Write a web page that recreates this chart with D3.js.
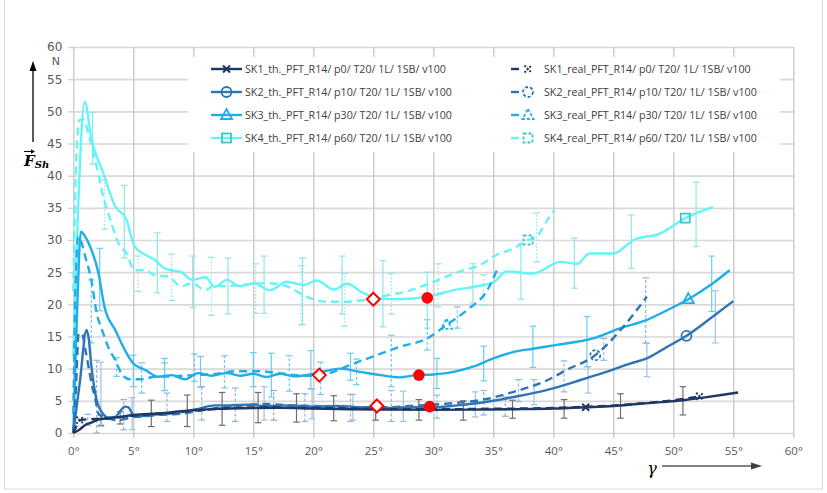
<!DOCTYPE html>
<html>
<head>
<meta charset="utf-8">
<script src="https://cdn.jsdelivr.net/npm/d3@7"></script>
<style>
  html, body { margin: 0; padding: 0; background: #ffffff; }
  svg { display: block; }
</style>
</head>
<body>
<svg id="chart" width="827" height="493"></svg>
<script>
// ---- axis ticks ----
const gammaTicks = [0, 5, 10, 15, 20, 25, 30, 35, 40, 45, 50, 55, 60];
const forceTicks = [0, 5, 10, 15, 20, 25, 30, 35, 40, 45, 50, 55, 60];

// ---- series names ----
const seriesNames = [
  "SK1_th._PFT_R14/ p0/ T20/ 1L/ 1SB/ v100",
  "SK2_th._PFT_R14/ p10/ T20/ 1L/ 1SB/ v100",
  "SK3_th._PFT_R14/ p30/ T20/ 1L/ 1SB/ v100",
  "SK4_th._PFT_R14/ p60/ T20/ 1L/ 1SB/ v100",
  "SK1_real_PFT_R14/ p0/ T20/ 1L/ 1SB/ v100",
  "SK2_real_PFT_R14/ p10/ T20/ 1L/ 1SB/ v100",
  "SK3_real_PFT_R14/ p30/ T20/ 1L/ 1SB/ v100",
  "SK4_real_PFT_R14/ p60/ T20/ 1L/ 1SB/ v100"
];

// ---- curves: [gamma in deg, force in N] ----
const sk1Th = [[0,0],[0.5,0.5],[1,1.25],[1.5,1.6],[2.1,2.1],[3,2.3],[3.5,2.4],[5,2.8],[6.5,3.0],[7.6,3.1],[9,3.4],[10.4,3.6],[11.8,3.75],[14,3.85],[17,3.9],[20,3.8],[23,3.7],[26,3.65],[30,3.6],[34,3.65],[37,3.7],[40,3.8],[42.7,4.0],[45,4.2],[47,4.5],[49,4.8],[50.8,5.1],[52.5,5.5],[54,5.9],[55.4,6.3]];
const sk1Real = [[0,0],[0.25,1.0],[0.55,2.0],[1,2.1],[2,2.2],[3,2.3],[4,2.5],[5,2.7],[7,3.0],[9,3.3],[11,3.6],[13,3.85],[16,4.0],[19,3.9],[22,3.85],[25,3.75],[28,3.7],[31,3.7],[34,3.75],[37,3.8],[40,3.9],[43,4.1],[46,4.4],[48.5,4.8],[50.5,5.2],[52.2,5.7]];
const sk2Th = [[0,0],[0.55,8],[1.1,16],[1.3,14.5],[1.5,10.5],[1.75,7],[1.95,5.1],[2.2,3.8],[2.5,2.9],[2.9,2.4],[3.5,2.5],[3.9,3.4],[4.3,4.1],[4.6,4.0],[4.85,3.2],[5.1,2.5],[5.6,2.6],[6.5,2.8],[8,3.0],[9.5,3.4],[10.5,3.8],[11.8,4.3],[13,4.3],[14.5,4.4],[16,4.2],[18,4.3],[20,4.1],[22,4.2],[24,4.0],[26,3.9],[28,4.0],[30,4.0],[32,4.3],[33.9,4.7],[36.7,5.6],[39.5,6.7],[42.2,8.2],[44.4,9.5],[46.4,10.8],[47.8,11.6],[49.5,13.4],[51.1,15.1],[53.3,18.1],[55,20.5]];
const sk2Real = [[0,0],[0.2,6],[0.45,15.5],[0.75,15.3],[1.0,13],[1.3,10],[1.6,7],[1.8,5.6],[2.1,3.0],[2.5,2.5],[2.9,2.3],[3.5,2.0],[4.1,2.1],[5,2.5],[6,2.6],[7,2.8],[8,2.9],[9,3.0],[10,3.3],[11,3.6],[12,3.9],[14,4.3],[16,4.5],[18,4.3],[20,4.2],[22,4.1],[24,4.0],[26,4.0],[28,4.2],[30,4.4],[32,4.7],[33.9,5.1],[36.7,6.4],[39.5,8.2],[41.1,9.8],[43.5,12.1],[45.6,16],[47.8,21.2]];
const sk3Th = [[0,0],[0.3,18],[0.64,31.3],[1.0,30.5],[1.4,29],[2.1,24.8],[2.6,19.6],[3.5,16],[4.3,12.9],[5,10.8],[6,9.8],[7.1,8.75],[8.2,9.0],[9.3,8.35],[10.4,9.3],[11.5,8.9],[12.8,9.3],[13.9,8.9],[15,9.2],[16.1,8.7],[17.2,9.2],[18.5,8.8],[20.3,9.3],[22.2,10.0],[23.9,9.5],[25.6,9.0],[27.2,8.65],[28.6,9.0],[30,9.1],[31.7,9.5],[33.3,10.3],[35,11.6],[36.7,12.6],[38.3,13.1],[40.3,13.7],[43.3,14.7],[45.6,16.3],[47.8,17.6],[49.5,19.1],[51.25,20.8],[53.1,23],[54.7,25.3]];
const sk3Real = [[0,3],[0.15,20],[0.4,30.5],[0.7,29.5],[1.0,27.4],[1.5,23.8],[1.95,18.6],[2.4,16],[2.9,13.4],[3.5,11.3],[4,9.3],[4.7,8.35],[5.7,8.35],[6.8,8.75],[8.2,8.8],[10,9.0],[12,9.2],[13.5,9.6],[15.5,9.6],[17.5,9.2],[19.6,8.9],[20.5,9.0],[21.8,9.6],[23.1,10.6],[25,11.9],[27.2,13.4],[29.5,14.7],[31.1,16.8],[32.8,19.1],[34.5,22.2],[35.3,25.3]];
const sk4Th = [[0,12],[0.4,35],[0.95,51.5],[1.5,45.8],[2.5,40.4],[3.5,35.2],[4.4,33.3],[5.1,29],[6,27.7],[6.8,26.9],[7.6,25.6],[8.2,25.3],[9,25.0],[9.9,23.8],[11,24.2],[11.8,22.7],[12.8,23.8],[13.9,22.8],[15,23.3],[16.4,22.2],[17.8,23.5],[19.2,23.0],[20.3,23.7],[21.7,22.3],[22.8,23.2],[24.2,21.7],[25.6,20.9],[26.9,20.8],[28.3,20.9],[30,21.4],[31.7,22.2],[33.3,22.7],[35,23.4],[36.1,25.1],[38.3,24.8],[40.6,26.6],[42,26.3],[43,27.9],[45,27.9],[46.7,30],[48.9,31],[51,33.4],[53.3,35.1]];
const sk4Real = [[0,22],[0.2,40],[0.5,48.6],[0.8,48.8],[1.4,45.5],[1.95,41.4],[2.5,36.7],[3.1,33.1],[3.75,29.5],[4.45,27.9],[5.1,25.3],[6.0,25.3],[6.8,24.5],[7.9,24.3],[9,22.8],[9.9,23.3],[11,22.2],[11.8,23],[12.3,22.8],[13.9,23],[16.1,23.3],[17.8,22.8],[19.4,21.2],[21.1,20.4],[22.5,20.4],[24.4,20.7],[26.1,21.4],[27.8,22.0],[30,23.5],[32.2,25.1],[33.9,26.1],[35.3,27.7],[36.7,28.7],[37.9,30],[38.6,30.5],[39.5,33.1],[40.1,34.7]];

// ---- series markers: [gamma, force] ----
const sk1ThMarks = [[42.7, 4.0]];
const sk1RealMarks = [[0.55, 2.0], [52.2, 5.7]];
const sk2ThMarks = [[51.1, 15.1]];
const sk2RealMarks = [[43.5, 12.1]];
const sk3ThMarks = [[51.25, 20.8]];
const sk3RealMarks = [[31.1, 16.8]];
const sk4ThMarks = [[51.0, 33.4]];
const sk4RealMarks = [[37.9, 30.0]];

// ---- error bars: [gamma, low, high] ----
const sk1ThErr = [[2.3,1.2,2.8],[3.9,1.4,3.3],[6.5,1.0,5.1],[9.5,1.0,5.9],[12.4,1.2,6.3],[15.4,1.6,6.3],[18.6,1.7,6.1],[21.7,1.9,5.8],[25.2,2.0,4.7],[28.8,2.0,5.2],[32.5,2.0,5.0],[36.6,2.3,5.1],[40.9,2.3,5.2],[45.6,2.3,6.1],[50.8,2.8,7.2]];
const sk1RealErr = [[1.2,1.2,2.9],[16.7,2.0,6.6],[36.0,2.6,5.6]];
const sk2ThErr = [[2.3,1.0,11.0],[4.9,0.5,5.5],[15.9,2.0,7.2],[19.9,2.2,6.8],[23.3,2.0,6.0],[27.5,1.8,6.5],[33.5,2.5,6.4],[38.4,4.4,8.3],[42.9,6.2,10.3],[47.8,8.75,13.9],[53.5,14.0,22.1]];
const sk2RealErr = [[1.95,0,11.3],[4.2,0.5,5.2],[7.8,1.8,6.2],[10.7,2.0,7.2],[13.5,1.8,7.0],[19.3,1.8,6.1],[23.1,1.8,6.0],[26.5,1.8,6.6],[30.3,2.3,5.9],[34.2,2.8,6.6],[37.1,4.9,8.3],[40.9,6.4,11.2],[44.2,11.3,14.7],[47.7,14.0,24.1]];
const sk3ThErr = [[2.2,19.0,28.7],[5.0,7.2,12.1],[7.6,6.6,11.6],[10.6,7.1,11.9],[15.0,7.2,12.5],[16.5,5.6,12.4],[19.8,6.9,12.8],[23.1,8.2,12.4],[30.3,6.9,11.6],[34.2,8.1,13.5],[38.3,10.2,16.6],[42.8,10.3,18.1],[53.2,18.9,27.5]];
const sk3RealErr = [[1.5,14.0,23.8],[3.6,8.8,11.7],[5.7,6.2,10.9],[7.6,6.6,10.9],[10.1,8.0,12.3],[12.6,7.0,12.0],[18.0,6.5,12.0],[20.6,6.0,11.0],[23.6,7.5,11.5],[26.5,7.2,15.2],[29.5,12.9,17.6],[32.0,16.3,19.6]];
const sk4ThErr = [[1.6,41.8,49.8],[4.25,27.2,38.5],[7.0,21.8,31.1],[9.95,19.5,27.5],[12.9,18.5,27.2],[15.9,18.6,27.5],[19.1,16.9,27.2],[22.4,18.5,27.5],[25.8,16.5,26.8],[29.5,16.3,25.0],[33.3,20.2,26.3],[37.3,20.8,29.4],[41.75,22.5,30.3],[46.5,25.6,33.9],[51.9,29.0,39.0]];
const sk4RealErr = [[2.6,31.7,39.3],[5.4,22.0,27.5],[8.2,20.6,27.8],[11.5,18.3,27.3],[15.2,18.6,26.3],[19.0,16.8,26.0],[22.6,16.6,24.8],[26.5,18.5,24.8],[30.4,19.6,26.3],[34.2,19.9,24.6],[38.6,26.6,34.2]];

// ---- highlighted points ----
const openDiamonds = [[20.5, 9.0], [25.0, 20.8], [25.3, 4.2]];
const filledDots = [[28.8, 9.0], [29.5, 21.0], [29.7, 4.1]];

// ---- series table ----
const series = [
  { name: seriesNames[0], data: sk1Th,   marks: sk1ThMarks,   err: sk1ThErr,   color: "#1F3864", mark: "x",        dashed: false, errColor: "#6F6F6F", errDash: null },
  { name: seriesNames[1], data: sk2Th,   marks: sk2ThMarks,   err: sk2ThErr,   color: "#2E75B6", mark: "circle",   dashed: false, errColor: "#9DC3E6", errDash: null },
  { name: seriesNames[2], data: sk3Th,   marks: sk3ThMarks,   err: sk3ThErr,   color: "#1FAEE8", mark: "triangle", dashed: false, errColor: "#6ACDF2", errDash: null },
  { name: seriesNames[3], data: sk4Th,   marks: sk4ThMarks,   err: sk4ThErr,   color: "#66F4F7", mark: "square",   dashed: false, errColor: "#8EE6EA", errDash: null, markColor: "#3CC6CA" },
  { name: seriesNames[4], data: sk1Real, marks: sk1RealMarks, err: sk1RealErr, color: "#1F3864", mark: "x",        dashed: true,  errColor: "#8FAADC", errDash: "3,2" },
  { name: seriesNames[5], data: sk2Real, marks: sk2RealMarks, err: sk2RealErr, color: "#2E75B6", mark: "circle",   dashed: true,  errColor: "#8DB8E2", errDash: "3,2" },
  { name: seriesNames[6], data: sk3Real, marks: sk3RealMarks, err: sk3RealErr, color: "#1FAEE8", mark: "triangle", dashed: true,  errColor: "#6ACDF2", errDash: "3,2" },
  { name: seriesNames[7], data: sk4Real, marks: sk4RealMarks, err: sk4RealErr, color: "#66F4F7", mark: "square",   dashed: true,  errColor: "#8EE6EA", errDash: "1.5,2", markColor: "#3CC6CA" }
];

// ---- layout ----
const svg = d3.select("#chart");
const plotLeft = 73.3, plotRight = 793.3, plotTop = 47, plotBottom = 433;
const x = d3.scaleLinear().domain([0, 60]).range([plotLeft, plotRight]);
const y = d3.scaleLinear().domain([0, 60]).range([plotBottom, plotTop]);

// outer frame
svg.append("rect")
  .attr("x", 4.5).attr("y", -2).attr("width", 818).attr("height", 491)
  .attr("fill", "#ffffff").attr("stroke", "#D9D9D9").attr("stroke-width", 1);

// horizontal grid
svg.append("g")
  .attr("transform", `translate(${plotLeft},0)`)
  .call(d3.axisRight(y).tickValues(forceTicks).tickSize(plotRight - plotLeft).tickFormat(""))
  .call(g => g.select(".domain").remove())
  .call(g => g.selectAll("line").attr("stroke", "#D9D9D9").attr("stroke-width", 1.6));

// vertical grid
svg.append("g")
  .attr("transform", `translate(0,${plotBottom})`)
  .call(d3.axisTop(x).tickValues(gammaTicks).tickSize(plotBottom - plotTop).tickFormat(""))
  .call(g => g.select(".domain").remove())
  .call(g => g.selectAll("line").attr("stroke", "#C4C4C4").attr("stroke-width", 1.2));

// y axis ticks and labels
svg.append("g")
  .attr("transform", `translate(${plotLeft},0)`)
  .call(d3.axisLeft(y).tickValues(forceTicks).tickSize(5).tickPadding(6).tickFormat(d => d))
  .call(g => g.select(".domain").remove())
  .call(g => g.selectAll("line").attr("stroke", "#D0D0D0").attr("stroke-width", 1.4))
  .call(g => g.selectAll("text").attr("fill", "#595959")
      .style("font-family", "'DejaVu Sans', sans-serif").style("font-size", "12px"));

// x axis ticks and labels
svg.append("g")
  .attr("transform", `translate(0,${plotBottom})`)
  .call(d3.axisBottom(x).tickValues(gammaTicks).tickSize(5).tickPadding(9).tickFormat(d => d + "°"))
  .call(g => g.select(".domain").remove())
  .call(g => g.selectAll("line").attr("stroke", "#C4C4C4").attr("stroke-width", 1.2))
  .call(g => g.selectAll("text").attr("fill", "#595959")
      .style("font-family", "'Open Sans', sans-serif").style("font-size", "11.5px"));

// unit under the top label
svg.append("text").attr("x", 60).attr("y", 65).attr("text-anchor", "end")
  .attr("fill", "#595959").style("font-family", "'DejaVu Sans', sans-serif").style("font-size", "11px")
  .text("N");

// ---- error bars ----
const errLayer = svg.append("g");
series.forEach(s => {
  const g = errLayer.append("g")
    .attr("stroke", s.errColor).attr("stroke-width", 1.2).attr("fill", "none");
  s.err.forEach(([gm, lo, hi]) => {
    const cx = x(gm);
    g.append("line").attr("x1", cx).attr("x2", cx).attr("y1", y(lo)).attr("y2", y(hi))
      .attr("stroke-dasharray", s.errDash);
    g.append("line").attr("x1", cx - 3.3).attr("x2", cx + 3.3).attr("y1", y(lo)).attr("y2", y(lo));
    g.append("line").attr("x1", cx - 3.3).attr("x2", cx + 3.3).attr("y1", y(hi)).attr("y2", y(hi));
  });
});

// ---- curves ----
const line = d3.line().x(d => x(d[0])).y(d => y(d[1])).curve(d3.curveMonotoneX);
const drawOrder = [3, 7, 2, 6, 1, 5, 0, 4];
drawOrder.forEach(i => {
  const s = series[i];
  svg.append("path")
    .datum(s.data)
    .attr("d", line)
    .attr("fill", "none")
    .attr("stroke", s.color)
    .attr("stroke-width", 2.4)
    .attr("stroke-linejoin", "round")
    .attr("stroke-dasharray", s.dashed ? "8,5" : null);
});

// ---- marker symbols ----
function drawMarker(g, type, cx, cy, color, dashed) {
  const m = g.append("g").attr("fill", "none").attr("stroke", color).attr("stroke-width", 1.8)
    .attr("stroke-dasharray", dashed ? "3,2" : null);
  if (type === "x") {
    m.append("path").attr("d", `M${cx-3.5},${cy-3.5}L${cx+3.5},${cy+3.5}M${cx-3.5},${cy+3.5}L${cx+3.5},${cy-3.5}`)
      .attr("stroke-width", 2).attr("stroke-dasharray", dashed ? "2,1.5" : null);
  } else if (type === "circle") {
    m.append("circle").attr("cx", cx).attr("cy", cy).attr("r", 5);
  } else if (type === "triangle") {
    m.append("path").attr("d", `M${cx},${cy-6}L${cx+5.5},${cy+4}L${cx-5.5},${cy+4}Z`);
  } else if (type === "square") {
    m.append("rect").attr("x", cx - 4.5).attr("y", cy - 4.5).attr("width", 9).attr("height", 9);
  }
}

series.forEach(s => {
  s.marks.forEach(([gm, f]) => drawMarker(svg, s.mark, x(gm), y(f), s.markColor || s.color, s.dashed));
});

// ---- highlighted points ----
svg.append("g").selectAll("path").data(openDiamonds).join("path")
  .attr("d", d => `M${x(d[0])},${y(d[1]) - 6.5}L${x(d[0]) + 6.5},${y(d[1])}L${x(d[0])},${y(d[1]) + 6.5}L${x(d[0]) - 6.5},${y(d[1])}Z`)
  .attr("fill", "#ffffff").attr("stroke", "#FF0000").attr("stroke-width", 2);
svg.append("g").selectAll("circle").data(filledDots).join("circle")
  .attr("cx", d => x(d[0])).attr("cy", d => y(d[1])).attr("r", 5.8)
  .attr("fill", "#FF0000");

// ---- legend ----
const legend = svg.append("g");
legend.append("rect").attr("x", 188).attr("y", 57).attr("width", 592).attr("height", 95).attr("fill", "#ffffff");
const rowY = [69, 92, 115, 138];
series.forEach((s, i) => {
  const col = i < 4 ? 0 : 1;
  const ry = rowY[i % 4];
  const g = legend.append("g");
  if (col === 0) {
    g.append("line").attr("x1", 211).attr("x2", 242).attr("y1", ry).attr("y2", ry)
      .attr("stroke", s.color).attr("stroke-width", 2.4);
    drawMarker(g, s.mark, 226.5, ry, s.markColor || s.color, false);
    g.append("text").attr("x", 245).attr("y", ry + 4).text(s.name);
  } else {
    g.append("line").attr("x1", 511).attr("x2", 519).attr("y1", ry).attr("y2", ry)
      .attr("stroke", s.color).attr("stroke-width", 2.4);
    drawMarker(g, s.mark, 528, ry, s.markColor || s.color, true);
    g.append("text").attr("x", 544).attr("y", ry + 4).text(s.name);
  }
});
legend.selectAll("text").attr("fill", "#404040")
  .style("font-family", "'Open Sans', sans-serif").style("font-size", "10.7px");

// ---- axis titles with arrows ----
const arrowColor = "#000000";
svg.append("line").attr("x1", 33).attr("x2", 33).attr("y1", 142).attr("y2", 69)
  .attr("stroke", arrowColor).attr("stroke-width", 1.3);
svg.append("path").attr("d", "M33,61L29.5,71L36.5,71Z").attr("fill", arrowColor);

const fLabel = svg.append("text").attr("x", 24).attr("y", 166)
  .style("font-family", "'DejaVu Serif', 'Liberation Serif', serif").style("font-weight", "bold")
  .style("font-style", "italic").attr("fill", "#000");
fLabel.append("tspan").style("font-size", "15px").text("F");
fLabel.append("tspan").style("font-size", "10px").attr("dy", 2).text("Sh");
// vector arrow over F
svg.append("line").attr("x1", 24).attr("x2", 33).attr("y1", 151.5).attr("y2", 151.5)
  .attr("stroke", "#000").attr("stroke-width", 1);
svg.append("path").attr("d", "M35,151.5L31,149.3L31,153.7Z").attr("fill", "#000");

svg.append("text").attr("x", 652).attr("y", 474).attr("text-anchor", "middle")
  .style("font-family", "'DejaVu Serif', 'Liberation Serif', serif").style("font-style", "italic")
  .style("font-size", "16px").attr("fill", "#000").text("γ");
svg.append("line").attr("x1", 662).attr("x2", 752).attr("y1", 466).attr("y2", 466)
  .attr("stroke", "#595959").attr("stroke-width", 1.6);
svg.append("path").attr("d", "M762,466L751,462.5L751,469.5Z").attr("fill", "#404040");
</script>
</body>
</html>
